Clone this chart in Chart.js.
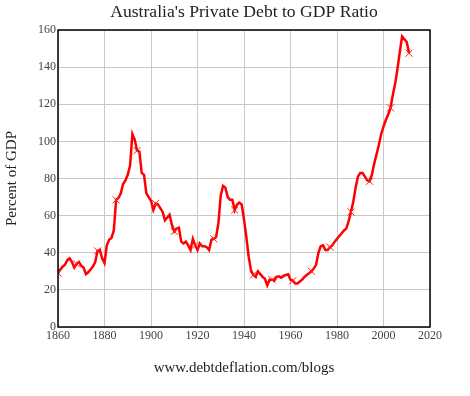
<!DOCTYPE html>
<html lang="en">
<head>
  <meta charset="UTF-8">
  <title>Australia's Private Debt to GDP Ratio</title>
  <script src="https://cdn.jsdelivr.net/npm/chart.js"></script>
  <style>
    body { margin: 0; background: #fff; }
  </style>
</head>
<body>
  <canvas id="grafico" width="470" height="396"></canvas>
  <script>
    // Years 1860..2011, one value per year (percent of GDP)
    const firstYear = 1860;
    const debtRatio = [
      29, 31, 32.5, 33.5, 36, 37, 35, 32, 34, 35,          // 1860s
      33, 32, 28.5, 29.5, 31, 32.5, 35, 41, 41.5, 37,      // 1870s
      34.5, 44, 47, 48, 52, 68.5, 69.5, 72, 77, 79,        // 1880s
      82, 87, 104, 101, 95, 94.5, 83, 82, 72, 70,          // 1890s
      68, 63, 66.5, 66, 64, 62, 57.5, 59, 60.5, 55,        // 1900s
      51.5, 53, 53.5, 46, 45, 46, 44, 41.5, 47.5, 44,      // 1910s
      41.5, 45, 43.5, 43.5, 43, 41.5, 47, 47.5, 48.5, 56,  // 1920s
      71, 76, 75, 70, 68.5, 68.5, 63, 66, 67, 66,          // 1930s
      58, 48.5, 38, 30.5, 28, 27, 30, 28.5, 27, 26,        // 1940s
      22.5, 25.5, 25.5, 25, 27, 27.3, 26.5, 27.5, 28, 28.4,// 1950s
      25.5, 25, 23.5, 23.5, 24.5, 25.5, 27, 28, 29, 30,    // 1960s
      31.5, 33.5, 40, 43.5, 44, 41.5, 41.5, 43, 44, 46,    // 1970s
      47.5, 49, 50.5, 52, 53, 57, 62, 67.5, 75, 81,        // 1980s
      83, 83, 81, 79, 78.5, 82, 88, 93, 98, 104,           // 1990s
      108, 111.5, 114.5, 118, 125, 131, 139, 148, 156.5, 155, // 2000s
      153.5, 147.5                                         // 2010s
    ];
    // years that carry an "x" marker
    const markerYears = [1860, 1868, 1877, 1885, 1894, 1902, 1910, 1919, 1927, 1936,
                         1944, 1952, 1961, 1969, 1977, 1986, 1994, 2003, 2011];
    const xTicks = [1860, 1880, 1900, 1920, 1940, 1960, 1980, 2000, 2020];
    const yTicks = [0, 20, 40, 60, 80, 100, 120, 140, 160];

    const puntos = debtRatio.map((v, i) => ({ x: firstYear + i, y: v }));
    const serif = 'Liberation Serif';

    // title + box around the plot
    const marco = {
      id: 'marco',
      afterDraw(chart) {
        const { ctx, chartArea: a } = chart;
        ctx.save();
        ctx.strokeStyle = '#000';
        ctx.lineWidth = 1.5;
        ctx.strokeRect(a.left, a.top, a.right - a.left, a.bottom - a.top);
        ctx.fillStyle = '#222';
        ctx.font = '17.6px "' + serif + '"';
        ctx.textAlign = 'center';
        ctx.textBaseline = 'middle';
        ctx.fillText("Australia's Private Debt to GDP Ratio", (a.left + a.right) / 2, 12);
        ctx.restore();
      }
    };

    new Chart(document.getElementById('grafico'), {
      type: 'line',
      data: {
        datasets: [{
          data: puntos,
          borderColor: '#ff0000',
          borderWidth: 2.5,
          tension: 0,
          pointStyle: 'crossRot',
          pointRadius: c => markerYears.includes(c.raw && c.raw.x) ? 5 : 0,
          pointBorderColor: '#ff2020',
          pointBorderWidth: 1,
          pointHoverRadius: 0
        }]
      },
      options: {
        responsive: false,
        animation: false,
        layout: { padding: { left: 0, top: 30, right: 40, bottom: 0 } },
        plugins: { legend: { display: false }, tooltip: { enabled: false } },
        scales: {
          x: {
            type: 'linear',
            min: 1860, max: 2020,
            afterBuildTicks: s => { s.ticks = xTicks.map(v => ({ value: v })); },
            afterFit: s => { s.height = 69; },
            grid: { color: '#c8c8c8', lineWidth: 1, drawTicks: false },
            border: { display: false },
            ticks: {
              color: '#444', padding: 2, maxRotation: 0,
              callback: v => String(v),
              font: { family: serif, size: 12 }
            },
            title: {
              display: true, text: 'www.debtdeflation.com/blogs', color: '#222',
              font: { family: serif, size: 15 }, padding: { top: 0, bottom: 19 }
            }
          },
          y: {
            min: 0, max: 160,
            afterBuildTicks: s => { s.ticks = yTicks.map(v => ({ value: v })); },
            afterFit: s => { s.width = 58; },
            grid: { color: '#c8c8c8', lineWidth: 1, drawTicks: false },
            border: { display: false },
            ticks: {
              color: '#444', padding: 2,
              callback: v => String(v),
              font: { family: serif, size: 12 }
            },
            title: {
              display: true, text: 'Percent of GDP', color: '#222',
              font: { family: serif, size: 15 }, padding: { top: 3, bottom: 0 }
            }
          }
        }
      },
      plugins: [marco]
    });
  </script>
</body>
</html>
